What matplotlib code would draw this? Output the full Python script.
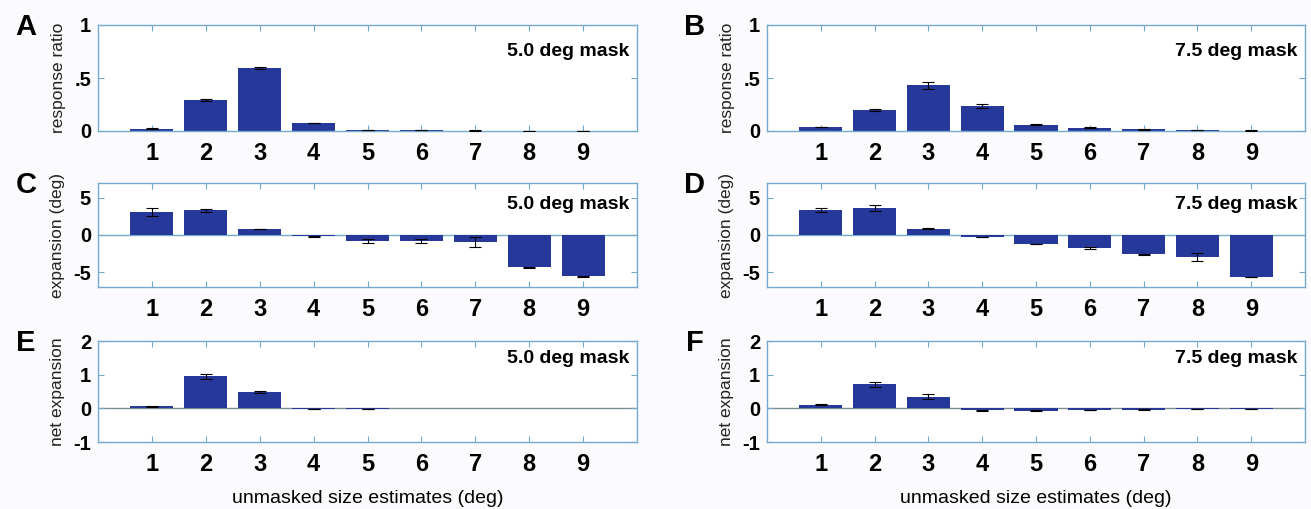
import numpy as np
import matplotlib
matplotlib.use("Agg")
import matplotlib.pyplot as plt

# ── data ─────────────────────────────────────────────────────────────────────
sizes = [1, 2, 3, 4, 5, 6, 7, 8, 9]
masks = ["5.0 deg mask", "7.5 deg mask"]

ratio_50 = [0.02, 0.29, 0.595, 0.076, 0.01, 0.007, 0.004, 0.003, 0.002]
ratio_50_err = [0.004, 0.008, 0.01, 0.004, 0.002, 0.001, 0.001, 0.001, 0.001]
ratio_75 = [0.038, 0.197, 0.43, 0.236, 0.06, 0.032, 0.015, 0.008, 0.004]
ratio_75_err = [0.004, 0.012, 0.033, 0.02, 0.005, 0.005, 0.002, 0.001, 0.001]

expan_50 = [3.1, 3.3, 0.8, -0.18, -0.8, -0.8, -0.94, -4.37, -5.58]
expan_50_err = [0.6, 0.15, 0.05, 0.05, 0.25, 0.3, 0.67, 0.05, 0.08]
expan_75 = [3.35, 3.6, 0.85, -0.27, -1.2, -1.7, -2.6, -2.95, -5.67]
expan_75_err = [0.3, 0.38, 0.1, 0.05, 0.05, 0.15, 0.05, 0.5, 0.05]

net_50 = [0.06, 0.95, 0.48, -0.02, -0.02, 0.0, 0.0, 0.0, 0.0]
net_50_err = [0.01, 0.07, 0.03, 0.01, 0.01, 0.0, 0.0, 0.0, 0.0]
net_75 = [0.11, 0.71, 0.35, -0.06, -0.07, -0.05, -0.04, -0.02, -0.02]
net_75_err = [0.01, 0.07, 0.07, 0.02, 0.02, 0.01, 0.01, 0.01, 0.01]

BAR = "#26399a"
SPINE = "#74a9cc"
plt.rcParams["font.family"] = ["Liberation Sans", "DejaVu Sans"]

fig = plt.figure(figsize=(13.11, 5.09), dpi=100)
fig.patch.set_facecolor("#fbfbfd")

W, H = 1311, 509
col_x = [(98, 637), (767, 1305)]
row_y = [(25, 131), (183, 287), (341, 442)]

rows = [
    dict(vals=[ratio_50, ratio_75], errs=[ratio_50_err, ratio_75_err],
         ylim=(0, 1), ticks=[0, 0.5, 1], labels=["0", ".5", "1"],
         ylabel="response ratio", zero=None, ty=0.75, letters="AB"),
    dict(vals=[expan_50, expan_75], errs=[expan_50_err, expan_75_err],
         ylim=(-7, 7), ticks=[-5, 0, 5], labels=["-5", "0", "5"],
         ylabel="expansion (deg)", zero=SPINE, ty=0.79, letters="CD"),
    dict(vals=[net_50, net_75], errs=[net_50_err, net_75_err],
         ylim=(-1, 2), ticks=[-1, 0, 1, 2], labels=["-1", "0", "1", "2"],
         ylabel="net expansion", zero="#7d8c92", ty=0.83, letters="EF"),
]

for ri, row in enumerate(rows):
    y0, y1 = row_y[ri]
    for ci in range(2):
        x0, x1 = col_x[ci]
        ax = fig.add_axes([x0 / W, 1 - y1 / H, (x1 - x0) / W, (y1 - y0) / H])
        ax.set_facecolor("white")
        vals = np.array(row["vals"][ci])
        errs = np.array(row["errs"][ci])
        ax.bar(sizes, vals, width=0.8, color=BAR, zorder=2)
        has_err = errs > 0
        ax.errorbar(np.array(sizes)[has_err], vals[has_err], yerr=errs[has_err],
                    fmt="none", ecolor="black", elinewidth=0.8, capsize=4,
                    capthick=0.8, zorder=3)
        if row["zero"]:
            ax.axhline(0, color=row["zero"], lw=1.0, zorder=1)
        ax.set_xlim(0, 10)
        ax.set_ylim(*row["ylim"])
        ax.set_xticks(sizes)
        ax.set_xticklabels([str(s) for s in sizes], fontsize=17,
                           fontweight="bold")
        ax.set_yticks(row["ticks"])
        ax.set_yticklabels(row["labels"], fontsize=14.5, fontweight="bold")
        ax.tick_params(direction="in", length=4, color=SPINE, width=0.8,
                       top=True, right=True, pad=5)
        ax.tick_params(axis="x", pad=8)
        for sp in ax.spines.values():
            sp.set_color(SPINE)
            sp.set_linewidth(1.0)
        ax.set_ylabel(row["ylabel"], fontsize=12.5, color="#222222",
                      labelpad=6)
        ax.text(0.985, row["ty"], masks[ci], transform=ax.transAxes,
                ha="right", va="center", fontsize=14, fontweight="bold")
        fig.text((x0 - 72) / W, 1 - (y0 + 2) / H, row["letters"][ci],
                 ha="center", va="center", fontsize=21, fontweight="bold")
        if ri == 2:
            ax.set_xlabel("unmasked size estimates (deg)", fontsize=14,
                          labelpad=10)

fig.savefig("out.png", dpi=100, facecolor=fig.get_facecolor())
